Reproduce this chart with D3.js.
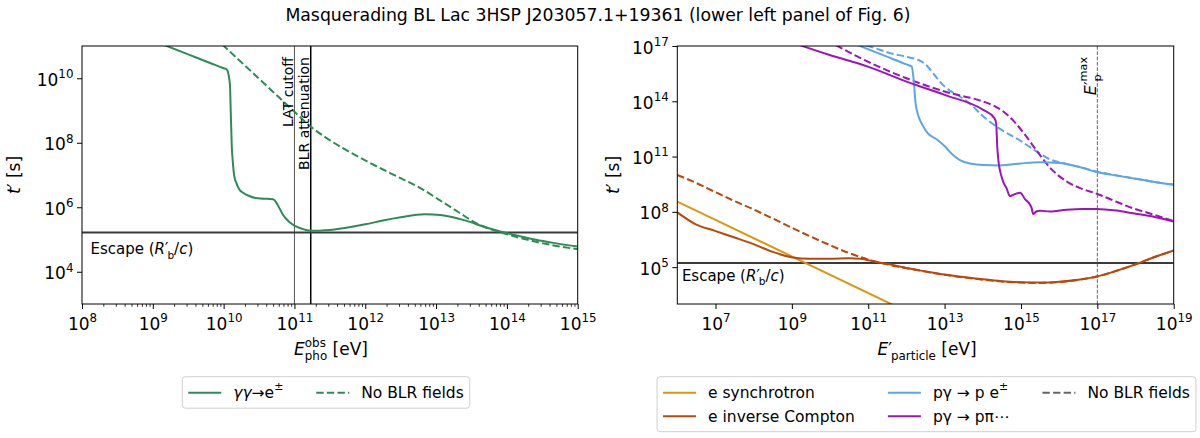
<!DOCTYPE html>
<html><head><meta charset="utf-8">
<script src="https://cdn.jsdelivr.net/npm/d3@7"></script>
<style>
body{margin:0;background:#fff}
svg text{font-family:"DejaVu Sans",sans-serif;fill:#000}
</style>
</head><body>
<svg id="chart" width="1200" height="438"></svg>
<script>
// ---------------- data (log10 values) ----------------
const titleText = "Masquerading BL Lac 3HSP J203057.1+19361 (lower left panel of Fig. 6)";

// Left panel: photon energy [log10 eV] vs t' [log10 s]
const leftXTicks = [8, 9, 10, 11, 12, 13, 14, 15];
const leftYTicks = [4, 6, 8, 10];
const leftXDomain = [8, 15];
const leftYDomain = [3, 11];
const escapeLogT = 5.22;
const latCutoffLogE = 11.0;
const blrAttenLogE = 11.23;

const ggSolid = [[9.15,11.04],[9.5,10.74],[9.8,10.48],[10.0,10.31],[10.045,10.27],[10.07,10.1],[10.09,9.77],
  [10.10,9.0],[10.115,7.9],[10.13,7.4],[10.15,6.97],[10.18,6.75],[10.22,6.56],[10.28,6.44],[10.36,6.35],
  [10.45,6.29],[10.52,6.27],[10.62,6.26],[10.70,6.25],[10.75,6.12],[10.80,5.92],[10.84,5.76],[10.92,5.56],
  [11.0,5.43],[11.1,5.34],[11.2,5.28],[11.3,5.27],[11.45,5.29],[11.71,5.36],[12.0,5.47],[12.25,5.59],
  [12.5,5.69],[12.84,5.78],[13.06,5.76],[13.33,5.64],[13.5,5.53],[13.6,5.45],[13.87,5.27],[14.15,5.12],
  [14.41,4.99],[14.7,4.88],[15.0,4.78]];
const ggNoBLR = [[9.98,11.05],[10.2,10.6],[10.4,10.19],[10.6,9.78],[10.8,9.37],[11.0,8.96],[11.23,8.5],
  [11.45,8.15],[11.71,7.8],[12.0,7.45],[12.25,7.17],[12.5,6.9],[12.79,6.58],[13.05,6.22],[13.33,5.83],
  [13.5,5.59],[13.6,5.47],[13.87,5.25],[14.15,5.07],[14.41,4.93],[14.7,4.8],[15.0,4.7]];

// Right panel: particle energy [log10 eV] vs t' [log10 s]
const rightXTicks = [7, 9, 11, 13, 15, 17, 19];
const rightYTicks = [5, 8, 11, 14, 17];
const rightXDomain = [6, 19];
const rightYDomain = [3, 17];
const epMaxLogE = 17.0;

const eSynchrotron = [[6,8.56],[12,2.6]];
const eIC = [[6,7.97],[6.47,7.34],[6.97,6.98],[7.48,6.62],[7.98,6.26],[8.48,5.84],[8.98,5.54],[9.48,5.45],
  [9.99,5.45],[10.49,5.48],[10.8,5.46],[11.0,5.37],[11.49,5.18],[12.0,4.95],[12.5,4.77],[13.0,4.6],[13.5,4.46],
  [14.0,4.34],[14.5,4.24],[15.0,4.18],[15.5,4.16],[16.0,4.21],[16.5,4.32],[17.0,4.5],[17.5,4.8],[18.0,5.15],
  [18.5,5.55],[19.0,5.9]];
const eICNoBLR = [[6,10.0],[6.47,9.59],[6.97,9.1],[7.48,8.6],[7.98,8.15],[8.48,7.66],[8.98,7.16],[9.48,6.67],
  [9.99,6.2],[10.49,5.77],[10.99,5.42],[11.49,5.15],[12.0,4.94],[12.5,4.76],[13.0,4.58],[13.5,4.44],[14.0,4.32],
  [14.5,4.22],[15.0,4.16],[15.5,4.14],[16.0,4.19],[16.5,4.31],[17.0,4.49],[17.5,4.8],[18.0,5.15],[18.5,5.55],[19.0,5.9]];
const pPair = [[10.7,17.07],[11.49,16.42],[12.0,16.0],[12.14,15.88],[12.19,15.16],[12.24,13.9],[12.3,13.3],
  [12.35,13.0],[12.45,12.6],[12.55,12.28],[12.8,11.93],[13.0,11.57],[13.2,11.12],[13.4,10.81],[13.7,10.61],
  [14.0,10.54],[14.45,10.52],[15.0,10.63],[15.5,10.69],[16.0,10.65],[16.5,10.45],[17.0,10.15],[17.5,9.97],
  [18.0,9.8],[18.5,9.62],[19.0,9.47]];
const pPairNoBLR = [[10.95,17.03],[11.3,16.8],[11.59,16.6],[11.99,16.42],[12.4,16.15],[12.55,15.9],[12.7,15.52],
  [13.0,14.8],[13.2,14.5],[13.4,14.26],[13.7,13.8],[14.0,13.2],[14.45,12.5],[15.0,11.84],[15.32,11.4],
  [15.76,10.85],[16.2,10.6],[16.6,10.4],[17.0,10.18],[17.5,9.98],[18.0,9.8],[18.5,9.62],[19.0,9.48]];
const pPion = [[9.2,17.05],[9.99,16.51],[10.99,15.88],[12.0,15.07],[13.0,14.35],[14.0,13.55],[14.3,13.1],
  [14.35,12.8],[14.38,11.5],[14.42,10.6],[14.48,10.0],[14.54,9.6],[14.62,9.3],[14.71,8.85],[14.85,8.97],
  [14.98,9.04],[15.11,8.68],[15.2,8.5],[15.28,8.2],[15.32,7.88],[15.4,8.02],[15.5,8.06],[15.76,8.02],
  [16.2,8.12],[16.6,8.16],[16.98,8.16],[17.5,8.07],[17.94,7.92],[18.5,7.72],[19.0,7.47]];
const pPionNoBLR = [[10.15,17.05],[10.99,16.15],[12.0,15.25],[13.0,14.53],[14.0,13.99],[14.3,13.75],[14.5,13.5],
  [14.8,12.95],[15.1,12.2],[15.4,11.35],[15.76,10.4],[16.2,9.64],[16.6,9.25],[17.0,8.97],[17.5,8.55],
  [17.94,8.19],[18.4,7.9],[19.0,7.5]];

// ---------------- styling ----------------
const C = {green:"#2e8b57", sync:"#d9960f", ic:"#b8480c", pe:"#5ca6e4", ppi:"#9b15b7", esc:"#3a3a3a", grey:"#666"};
const FS_TICK = 17, FS_LABEL = 17, FS_TEXT = 15, FS_VTEXT = 14, FS_LEG = 15.5;

const svg = d3.select("#chart");
svg.append("rect").attr("width",1200).attr("height",438).attr("fill","#fff");

function rich(sel, segs, fs) {
  let rise = 0, pending = 0, prevW = 0;
  segs.forEach(s => {
    const sc = s.s || 1, r = (s.r || 0) * fs;
    const ts = sel.append("tspan").text(s.t).attr("font-size", fs * sc);
    if (s.it) ts.attr("font-style", "italic");
    ts.attr("dy", rise - r); rise = r;
    let dx = pending + (s.dx || 0); pending = 0;
    if (s.back) dx -= prevW;
    if (dx) ts.attr("dx", dx);
    const w = ts.node().getComputedTextLength();
    if (s.back && prevW > w) pending = prevW - w;
    prevW = w;
  });
  return sel;
}
const powLabel = e => [{t:"10"},{t:String(e), s:0.7, r:0.45}];

svg.append("text").attr("x",598).attr("y",21).attr("text-anchor","middle")
  .attr("font-size",17.3).text(titleText);

function panel(id, box, xDom, yDom) {
  const x = d3.scaleLog().domain(xDom.map(v=>10**v)).range([box.l, box.r]);
  const y = d3.scaleLog().domain(yDom.map(v=>10**v)).range([box.b, box.t]);
  svg.append("clipPath").attr("id", id).append("rect")
    .attr("x", box.l).attr("y", box.t).attr("width", box.r-box.l).attr("height", box.b-box.t);
  const g = svg.append("g");
  const plot = g.append("g").attr("clip-path", `url(#${id})`);
  const line = d3.line().x(d=>x(10**d[0])).y(d=>y(10**d[1])).curve(d3.curveMonotoneX);
  return {x, y, g, plot, line, box};
}

function axes(P, xt, yt, minor) {
  const gx = P.g.append("g").attr("transform",`translate(0,${P.box.b})`)
    .call(d3.axisBottom(P.x).tickValues(xt.map(e=>10**e)).tickSize(5).tickFormat(""));
  gx.select(".domain").remove();
  gx.selectAll(".tick line").attr("stroke","#000").attr("stroke-width",1);
  gx.selectAll(".tick").each(function(d){
    const e = Math.round(Math.log10(d));
    const t = d3.select(this).select("text").text(null).attr("dy",null).attr("y",25.5)
      .attr("text-anchor","middle").attr("fill","#000");
    rich(t, powLabel(e), FS_TICK);
  });
  if (minor) {
    const mv = [];
    for (let k = P.x.domain()[0]; k < P.x.domain()[1]; k *= 10) for (let m = 2; m < 10; m++) mv.push(k*m);
    const gm = P.g.append("g").attr("transform",`translate(0,${P.box.b})`)
      .call(d3.axisBottom(P.x).tickValues(mv).tickSize(2.8).tickFormat(""));
    gm.select(".domain").remove();
    gm.selectAll(".tick line").attr("stroke","#000").attr("stroke-width",0.8);
  }
  const gy = P.g.append("g").attr("transform",`translate(${P.box.l},0)`)
    .call(d3.axisLeft(P.y).tickValues(yt.map(e=>10**e)).tickSize(5).tickFormat(""));
  gy.select(".domain").remove();
  gy.selectAll(".tick line").attr("stroke","#000").attr("stroke-width",1);
  gy.selectAll(".tick").each(function(d){
    const e = Math.round(Math.log10(d));
    const t = d3.select(this).select("text").text(null).attr("dy",null).attr("x",-8.5).attr("y",7)
      .attr("text-anchor","end").attr("fill","#000");
    rich(t, powLabel(e), FS_TICK);
  });
  P.g.append("rect").attr("x",P.box.l).attr("y",P.box.t).attr("width",P.box.r-P.box.l)
    .attr("height",P.box.b-P.box.t).attr("fill","none").attr("stroke","#000").attr("stroke-width",1);
}

function curve(P, data, color, dashed, width) {
  P.plot.append("path").datum(data).attr("d", P.line).attr("fill","none")
    .attr("stroke", color).attr("stroke-width", width || 2)
    .attr("stroke-dasharray", dashed ? "7.4,3.2" : null);
}
function hline(P, v, color, w) {
  P.plot.append("line").attr("x1",P.box.l).attr("x2",P.box.r).attr("y1",P.y(10**v)).attr("y2",P.y(10**v))
    .attr("stroke",color).attr("stroke-width",w);
}
function vline(P, v, color, w, dash) {
  P.plot.append("line").attr("x1",P.x(10**v)).attr("x2",P.x(10**v)).attr("y1",P.box.t).attr("y2",P.box.b)
    .attr("stroke",color).attr("stroke-width",w).attr("stroke-dasharray",dash||null);
}
function vtext(P, v, segs, fs) {
  const xx = P.x(10**v) - 1.5;
  const t = P.g.append("text").attr("text-anchor","end")
    .attr("transform",`translate(${xx},${P.box.t+11}) rotate(-90)`);
  rich(t, segs, fs || FS_VTEXT);
}
function escapeText(P) {
  const xx = P.x(10**(P.x.domain().map(Math.log10)[0] + 0.12));
  const yy = P.y(10**(escapeLogT - 0.33)) + 11.4;
  rich(P.g.append("text").attr("x",xx).attr("y",yy),
    [{t:"Escape ("},{t:"R",it:1},{t:"′"},{t:"b",s:0.7,r:-0.3,dx:-1},{t:"/"},{t:"c",it:1},{t:")"}], FS_TEXT);
}

// ---------- left panel ----------
const L = panel("clipL", {l:82, r:577.7, t:46, b:304}, leftXDomain, leftYDomain);
vline(L, latCutoffLogE, "#555", 1);
vline(L, blrAttenLogE, "#000", 1.5);
hline(L, escapeLogT, C.esc, 2);
curve(L, ggNoBLR, C.green, true);
curve(L, ggSolid, C.green, false);
axes(L, leftXTicks, leftYTicks, true);
vtext(L, latCutoffLogE, [{t:"LAT cutoff"}]);
vtext(L, blrAttenLogE, [{t:"BLR attenuation"}]);
escapeText(L);
rich(L.g.append("text").attr("text-anchor","middle").attr("x",331).attr("y",355),
  [{t:"E",it:1},{t:"obs",s:0.7,r:0.5},{t:"pho",s:0.7,r:-0.3,back:1},{t:" [eV]"}], FS_LABEL);
rich(L.g.append("text").attr("text-anchor","middle").attr("transform","translate(20,175) rotate(-90)"),
  [{t:"t",it:1},{t:"′"},{t:" [s]"}], FS_LABEL);

// ---------- right panel ----------
const R = panel("clipR", {l:677.3, r:1173.7, t:46, b:304}, rightXDomain, rightYDomain);
vline(R, epMaxLogE, C.grey, 1, "3.7,1.6");
hline(R, escapeLogT, C.esc, 2);
curve(R, eICNoBLR, C.ic, true);
curve(R, pPairNoBLR, C.pe, true);
curve(R, pPionNoBLR, C.ppi, true);
curve(R, eSynchrotron, C.sync, false);
curve(R, eIC, C.ic, false);
curve(R, pPair, C.pe, false);
curve(R, pPion, C.ppi, false);
axes(R, rightXTicks, rightYTicks, false);
vtext(R, epMaxLogE, [{t:"E",it:1},{t:"′"},{t:"max",s:0.7,r:0.55},{t:"p",s:0.7,r:-0.3,back:1}], 16);
escapeText(R);
rich(R.g.append("text").attr("text-anchor","middle").attr("x",927).attr("y",355),
  [{t:"E",it:1},{t:"′"},{t:"particle",s:0.7,r:-0.3,dx:-1}, {t:" [eV]"}], FS_LABEL);
rich(R.g.append("text").attr("text-anchor","middle").attr("transform","translate(619,175) rotate(-90)"),
  [{t:"t",it:1},{t:"′"},{t:" [s]"}], FS_LABEL);

// ---------- legends ----------
const leftLegend = [
  {color:C.green, dashed:false, segs:[{t:"γγ",it:1},{t:"→e"},{t:"±",s:0.7,r:0.5}]},
  {color:C.green, dashed:true, segs:[{t:"No BLR fields"}]}
];
const rightLegend = [
  {color:C.sync, dashed:false, segs:[{t:"e synchrotron"}]},
  {color:C.ic, dashed:false, segs:[{t:"e inverse Compton"}]},
  {color:C.pe, dashed:false, segs:[{t:"pγ → p e"},{t:"±",s:0.7,r:0.5}]},
  {color:C.ppi, dashed:false, segs:[{t:"pγ → pπ⋯"}]},
  {color:C.grey, dashed:true, segs:[{t:"No BLR fields"}]}
];
function legend(items, ncol, cx, top) {
  const nrow = Math.ceil(items.length / ncol);
  const g = svg.append("g");
  const frame = g.append("rect");
  const HL = 33, GAP = 12, COLSP = 33, PAD = 6, ROWH = 23.5;
  const texts = items.map(it => {
    const t = g.append("text");
    rich(t, it.segs, FS_LEG);
    return {t, w: t.node().getComputedTextLength()};
  });
  const colW = [];
  for (let c = 0; c < ncol; c++) {
    let m = 0;
    for (let r = 0; r < nrow; r++) { const i = c*nrow + r; if (i < items.length) m = Math.max(m, texts[i].w); }
    colW.push(HL + GAP + m);
  }
  const W = PAD*2 + d3.sum(colW) + COLSP*(ncol-1);
  const H = 10 + nrow*ROWH - 2;
  const left = cx - W/2;
  frame.attr("x",left).attr("y",top).attr("width",W).attr("height",H).attr("rx",3)
    .attr("fill","#fff").attr("fill-opacity",0.8).attr("stroke","#cfcfcf").attr("stroke-width",1);
  let xc = left + PAD;
  for (let c = 0; c < ncol; c++) {
    for (let r = 0; r < nrow; r++) {
      const i = c*nrow + r; if (i >= items.length) continue;
      const yc = top + 16 + r*ROWH;
      g.append("line").attr("x1",xc).attr("x2",xc+HL).attr("y1",yc).attr("y2",yc)
        .attr("stroke",items[i].color).attr("stroke-width",2)
        .attr("stroke-dasharray", items[i].dashed ? "7.4,3.2" : null);
      texts[i].t.attr("x", xc+HL+GAP).attr("y", yc+5.5);
      texts[i].t.select("tspan").attr("x", xc+HL+GAP);
    }
    xc += colW[c] + COLSP;
  }
}
legend(leftLegend, 2, 326, 376.7);
legend(rightLegend, 3, 926.5, 376.7);
</script>
</body></html>
